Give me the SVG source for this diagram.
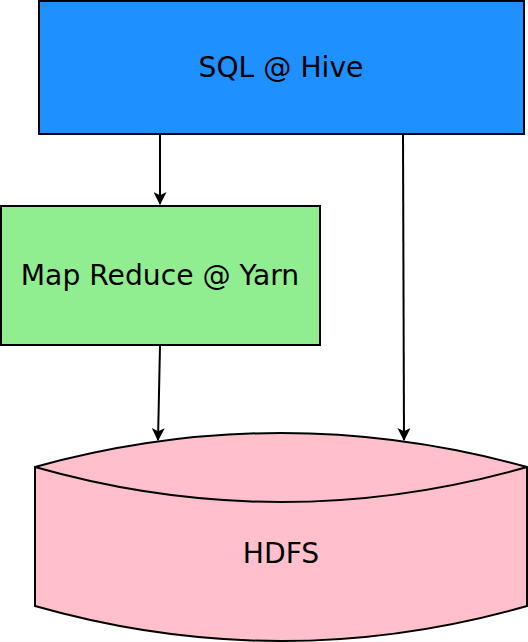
<svg xmlns="http://www.w3.org/2000/svg" width="528" height="642" viewBox="0 0 528 642">
<style>
.node{stroke:#000;stroke-width:2}
.lbl{fill:#000}
.edge{stroke:#000;stroke-width:2;fill:none;marker-end:url(#ah)}
</style>
<defs>
<marker id="ah" viewBox="0 0 12 12" refX="11" refY="6" markerWidth="13" markerHeight="13" markerUnits="userSpaceOnUse" orient="auto">
<path d="M0,0 L12,6 L0,12 L3,6 Z" fill="#000"/>
</marker>
</defs>
<rect width="528" height="642" fill="#fff"/>
<g id="hive">
<rect class="node" x="39" y="1" width="485" height="133" fill="#1e90ff"/>
<text class="lbl" x="281" y="77" font-family="DejaVu Sans, sans-serif" font-size="28.2" text-anchor="middle">SQL @ Hive</text>
</g>
<g id="mapreduce">
<rect class="node" x="1" y="206" width="319" height="139" fill="#90ee90"/>
<text class="lbl" x="160" y="285" font-family="DejaVu Sans, sans-serif" font-size="28.2" text-anchor="middle">Map Reduce @ Yarn</text>
</g>
<g id="hdfs">
<path class="node" d="M35,467 Q281,399 527,467 L527,606 Q281,676 35,606 Z" fill="#ffc0cb"/>
<path class="node" d="M35,467 Q281,537 527,467" fill="none"/>
<text class="lbl" x="281" y="563" font-family="DejaVu Sans, sans-serif" font-size="28.2" text-anchor="middle">HDFS</text>
</g>
<g id="connectors">
<path class="edge" d="M160,135 L160,204"/>
<path class="edge" d="M160,346 L158,440"/>
<path class="edge" d="M403,135 L404,440"/>
</g>
</svg>
